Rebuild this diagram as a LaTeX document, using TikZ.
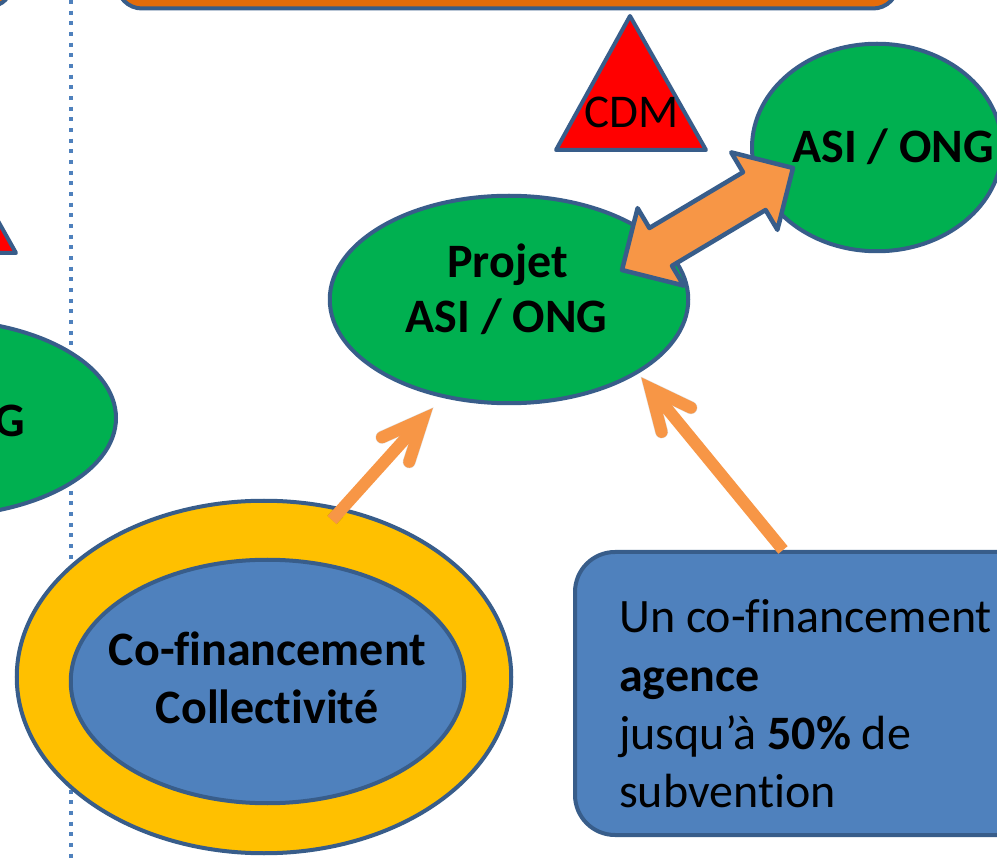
\documentclass[tikz,border=0pt]{standalone}
\usepackage{fontspec}
\setmainfont{Carlito}[Ligatures=NoCommon]
\usetikzlibrary{shapes.geometric,calc}
\definecolor{bord}{HTML}{385D8A}
\definecolor{vert}{HTML}{00B050}
\definecolor{bleu}{HTML}{4F81BD}
\definecolor{jaune}{HTML}{FFC000}
\definecolor{orfonce}{HTML}{E46C0A}
\definecolor{orclair}{HTML}{F79646}
\definecolor{rouge}{HTML}{FF0000}
\begin{document}
\begin{tikzpicture}[x=1pt,y=-1pt,
  shapeline/.style={draw=bord,line width=4pt},
  ellnode/.style={ellipse,shapeline,inner sep=0pt},
  boldtxt/.style={font=\fontsize{48}{56}\selectfont\bfseries,inner sep=0pt,text=black},
  regtxt/.style={font=\fontsize{48}{56}\selectfont,inner sep=0pt,text=black},
  thinshaft/.style={draw=orclair,line width=12pt,line cap=butt},
  thinhead/.style={draw=orclair,line width=12pt,line cap=round,line join=miter},
  shadowline/.style={draw=black,opacity=0.12,line width=13pt}
]
\useasboundingbox (0,0) rectangle (997,858);
\clip (0,0) rectangle (997,858);

% dotted separator
\coordinate (sepTop) at (70.5,0);
\coordinate (sepBot) at (70.5,858);
\draw[bleu,line width=4pt,dash pattern=on 4pt off 6.67pt] (sepTop) -- (sepBot);

% top-left partial box
\draw[shapeline,fill=orfonce,rounded corners=20pt] (-200,-100) rectangle (11,6);
% top orange box
\draw[shapeline,fill=orfonce,rounded corners=25pt] (117,-100) rectangle (898,8.5);

% left partial triangle
\draw[shapeline,fill=rouge,line join=round] (-62,114) -- (16,253) -- (-140,253) -- cycle;
% CDM triangle
\draw[shapeline,fill=rouge,line join=round] (630,16) -- (706,150) -- (556,150) -- cycle;
\node[regtxt,anchor=base,font=\fontsize{47}{56}\selectfont] (cdm) at (632,128) {CDM};

% left partial ellipse
\node[ellnode,fill=vert,minimum width=360pt,minimum height=196.5pt] (leftell) at (-64,418) {};
\node[boldtxt,anchor=base east] (leftelltxt) at (25,437) {ASI / ONG};

% right ellipse
\node[ellnode,fill=vert,minimum width=250pt,minimum height=207.5pt] (asi) at (877,147.5) {};
\node[boldtxt,anchor=base] (asitxt) at (893,163) {ASI / ONG};

% projet ellipse
\node[ellnode,fill=vert,minimum width=358.5pt,minimum height=207.5pt] (projet) at (509,299.5) {};
\node[boldtxt,anchor=base] (projet1) at (507.5,278) {Projet};
\node[boldtxt,anchor=base] (projet2) at (506.5,333) {ASI / ONG};

% double arrow
\coordinate (dl) at (622,270);
\coordinate (dr) at (793,168);
\draw[draw=bord,line width=4.5pt,fill=orclair,line join=round]
  (dl) -- (637.6,208.2) -- (649.4,228) -- (743,172.2) -- (731.2,152.4) -- (dr)
  -- (777.4,229.8) -- (765.6,210) -- (672,265.8) -- (683.8,285.6) -- cycle;

% collectivite
\node[ellnode,fill=jaune,minimum width=494.5pt,minimum height=352.5pt] (outer) at (264,677) {};
\node[ellnode,fill=bleu,minimum width=393.5pt,minimum height=243.5pt] (coll) at (267.5,681.5) {};
\node[boldtxt,anchor=base] (coll1) at (267.5,665) {Co-financement};
\node[boldtxt,anchor=base] (coll2) at (267,723) {Collectivité};

% agence box
\node[rectangle,shapeline,fill=bleu,rounded corners=40pt,minimum width=465pt,minimum height=283pt,inner sep=0pt] (agence) at (807.5,693.5) {};
\node[regtxt,anchor=base west] (ag1) at (619,633) {Un co-financement};
\node[boldtxt,anchor=base west] (ag2) at (619,691) {agence};
\node[regtxt,anchor=base west] (ag3) at (619,749) {jusqu’à \textbf{50\%} de};
\node[regtxt,anchor=base west] (ag4) at (619,807) {subvention};

% thin arrow 1 (collectivite -> projet)
\coordinate (a1s) at (332,520);
\coordinate (a1t) at (423,419);
\coordinate (a1b1) at (382,437.3);
\coordinate (a1b2) at (409.2,461.8);
\begin{scope}[shift={(1.5,2.5)}]
\draw[shadowline,line cap=butt] (a1s) -- ($(a1t)!0.93!(a1s)$);
\draw[shadowline,line cap=round] (a1b1) -- (a1t) -- (a1b2);
\end{scope}
\draw[thinshaft] (a1s) -- (a1t);
\draw[thinhead] (a1b1) -- (a1t) -- (a1b2);

% thin arrow 2 (agence -> projet)
\coordinate (a2s) at (783,550);
\coordinate (a2t) at (650.3,388.3);
\coordinate (a2b1) at (690.9,407.7);
\coordinate (a2b2) at (661.6,431.9);
\begin{scope}[shift={(1.5,2.5)}]
\draw[shadowline,line cap=round] (a2b1) -- (a2t) -- (a2b2);
\end{scope}
\draw[thinshaft] (a2s) -- (a2t);
\draw[thinhead] (a2b1) -- (a2t) -- (a2b2);
\end{tikzpicture}
\end{document}
